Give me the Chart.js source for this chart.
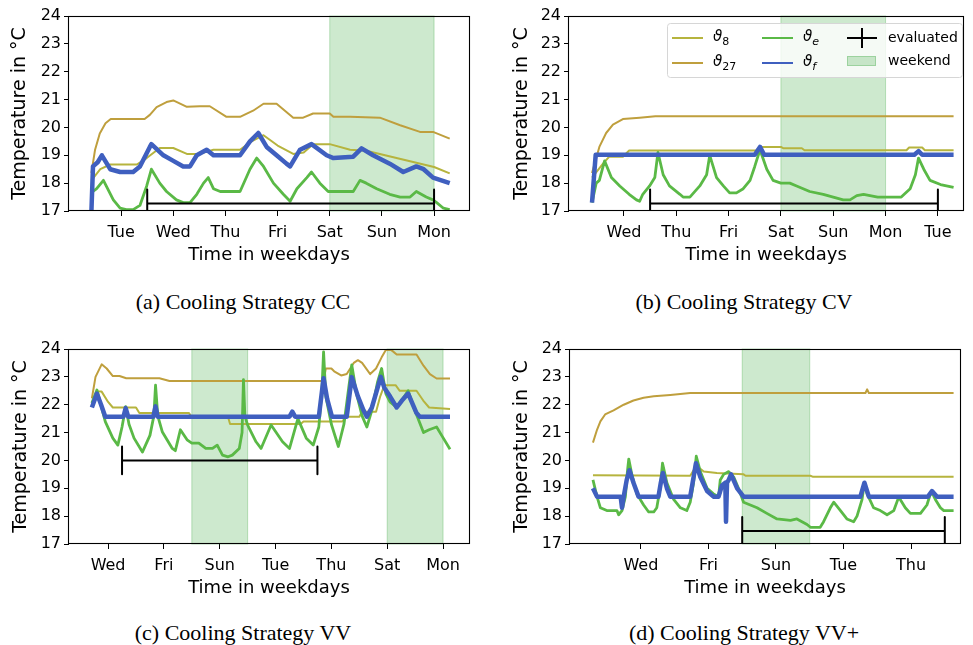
<!DOCTYPE html>
<html>
<head>
<meta charset="utf-8">
<script src="https://cdn.jsdelivr.net/npm/chart.js@4.4.1/dist/chart.umd.min.js"></script>
<style>
body{margin:0;background:#fff;width:973px;height:645px;position:relative;overflow:hidden}
.panel{position:absolute;width:486px;height:270px}
.cap{position:absolute;width:486px;text-align:center;font-family:"Liberation Serif",serif;font-size:22px;line-height:24px;color:#000}
</style>
</head>
<body>
<div class="panel" style="left:0;top:0"><canvas id="cc"></canvas></div>
<div class="panel" style="left:487px;top:0"><canvas id="cv"></canvas></div>
<div class="panel" style="left:0;top:333px"><canvas id="vv"></canvas></div>
<div class="panel" style="left:487px;top:333px"><canvas id="vvp"></canvas></div>
<div class="cap" style="left:0;top:290px">(a) Cooling Strategy CC</div>
<div class="cap" style="left:501px;top:290px">(b) Cooling Strategy CV</div>
<div class="cap" style="left:0;top:621px">(c) Cooling Strategy VV</div>
<div class="cap" style="left:501px;top:621px">(d) Cooling Strategy VV+</div>
<script>
// x = days since Monday of the first week, y = temperature in °C
// (a) Cooling strategy CC
const ccT8 = [[0.43,18.1],[0.6,18.5],[0.79,18.67],[1.3,18.67],[1.49,18.9],[1.74,19.26],[2.0,19.26],[2.26,19.05],[2.5,19.05],[2.77,19.2],[3.28,19.2],[3.5,19.5],[3.73,19.72],[4.0,19.35],[4.3,19.05],[4.5,19.1],[4.68,19.4],[5.0,19.4],[5.39,19.2],[5.7,19.16],[6.2,18.94],[6.6,18.76],[7.0,18.58],[7.3,18.35]];
const ccT27 = [[0.43,18.37],[0.5,19.2],[0.59,19.78],[0.7,20.15],[0.8,20.3],[1.45,20.3],[1.55,20.45],[1.68,20.73],[1.87,20.91],[2.0,20.97],[2.26,20.74],[2.51,20.76],[2.7,20.76],[3.02,20.38],[3.28,20.38],[3.53,20.6],[3.73,20.85],[3.98,20.85],[4.3,20.35],[4.49,20.35],[4.68,20.5],[5.0,20.5],[5.07,20.38],[5.39,20.38],[5.96,20.35],[6.35,20.08],[6.73,19.84],[6.98,19.84],[7.3,19.6]];
const ccTe = [[0.46,17.7],[0.53,17.8],[0.66,18.1],[0.85,17.4],[0.98,17.1],[1.1,17.05],[1.23,17.05],[1.36,17.2],[1.49,17.9],[1.58,18.5],[1.74,18.0],[1.87,17.7],[2.06,17.4],[2.19,17.3],[2.32,17.3],[2.45,17.6],[2.58,18.0],[2.67,18.2],[2.77,17.8],[2.9,17.7],[3.28,17.7],[3.47,18.5],[3.6,18.9],[3.73,18.6],[3.92,18.0],[4.11,17.6],[4.24,17.35],[4.37,17.8],[4.56,18.2],[4.65,18.4],[4.81,18.0],[4.97,17.7],[5.07,17.7],[5.45,17.7],[5.58,18.1],[5.7,18.0],[5.9,17.8],[6.15,17.6],[6.35,17.5],[6.54,17.5],[6.66,17.7],[6.85,17.5],[6.98,17.4],[7.05,17.3],[7.18,17.1],[7.3,17.05]];
const ccTf = [[0.43,17.0],[0.46,18.6],[0.55,18.75],[0.63,19.0],[0.79,18.5],[0.98,18.4],[1.23,18.4],[1.36,18.6],[1.55,19.3],[1.58,19.4],[1.81,19.0],[2.0,18.8],[2.19,18.6],[2.32,18.6],[2.45,19.0],[2.64,19.2],[2.77,19.0],[3.28,19.0],[3.47,19.5],[3.63,19.8],[3.79,19.3],[3.98,19.0],[4.17,18.7],[4.24,18.6],[4.43,19.2],[4.65,19.4],[4.94,19.0],[5.07,18.9],[5.45,18.95],[5.61,19.25],[5.83,19.0],[6.15,18.7],[6.41,18.4],[6.66,18.6],[6.8,18.5],[6.98,18.2],[7.3,18.0]];
const ccEval = [1.5, 7.0, 17.27];
const ccWeekend = [[5, 7]];
const ccTickDays = [1, 2, 3, 4, 5, 6, 7];
const ccTickNames = ['Tue', 'Wed', 'Thu', 'Fri', 'Sat', 'Sun', 'Mon'];

// (b) Cooling strategy CV
const cvT8 = [[1.39,18.2],[1.6,18.7],[1.72,18.95],[1.98,18.95],[2.1,19.17],[4.53,19.17],[4.6,19.3],[5.0,19.3],[5.05,19.25],[5.4,19.25],[5.45,19.18],[7.4,19.18],[7.45,19.28],[7.7,19.28],[7.75,19.18],[8.3,19.18]];
const cvT27 = [[1.39,18.36],[1.53,19.3],[1.66,19.8],[1.79,20.1],[1.98,20.3],[2.3,20.35],[2.6,20.4],[8.3,20.4]];
const cvTe = [[1.39,17.3],[1.47,18.0],[1.53,18.1],[1.63,18.8],[1.76,18.2],[1.92,17.9],[2.1,17.6],[2.24,17.4],[2.3,17.35],[2.36,17.6],[2.49,17.9],[2.59,18.2],[2.65,19.1],[2.75,18.3],[2.87,17.9],[3.07,17.6],[3.13,17.5],[3.26,17.5],[3.45,17.9],[3.58,18.3],[3.64,19.0],[3.77,18.2],[3.9,17.9],[4.02,17.65],[4.15,17.65],[4.28,17.8],[4.41,18.1],[4.5,18.6],[4.6,19.2],[4.73,18.5],[4.85,18.1],[5.0,18.0],[5.17,18.0],[5.3,17.9],[5.55,17.7],[5.81,17.6],[6.0,17.5],[6.19,17.4],[6.32,17.4],[6.45,17.55],[6.58,17.6],[6.85,17.5],[7.3,17.5],[7.47,17.8],[7.57,18.3],[7.63,18.9],[7.73,18.5],[7.85,18.1],[8.05,17.95],[8.3,17.85]];
const cvTf = [[1.39,17.3],[1.46,19.02],[4.5,19.02],[4.6,19.3],[4.68,19.02],[7.55,19.02],[7.63,19.15],[7.7,19.02],[8.3,19.02]];
const cvEval = [2.5, 8.0, 17.27];
const cvWeekend = [[5, 7]];
const cvTickDays = [2, 3, 4, 5, 6, 7, 8];
const cvTickNames = ['Wed', 'Thu', 'Fri', 'Sat', 'Sun', 'Mon', 'Tue'];

// (c) Cooling strategy VV
const vvT8 = [[1.42,22.0],[1.6,22.47],[1.77,22.47],[2.0,22.1],[2.17,21.9],[3.0,21.9],[3.12,21.7],[4.9,21.7],[5.0,21.55],[6.3,21.55],[6.37,21.31],[8.9,21.31],[9.0,21.4],[10.4,21.4],[10.5,21.57],[11.0,21.57],[11.1,21.75],[11.6,21.75],[11.75,22.3],[11.9,22.7],[12.3,22.7],[12.45,22.5],[13.05,22.5],[13.29,22.15],[13.5,21.9],[14.25,21.85]];
const vvT27 = [[1.42,22.23],[1.55,23.0],[1.77,23.45],[1.95,23.3],[2.17,23.03],[2.41,23.03],[2.65,22.95],[3.84,22.95],[4.2,22.85],[9.72,22.85],[9.8,23.3],[10.0,23.3],[10.1,23.2],[10.35,23.05],[10.55,23.1],[10.8,23.5],[10.95,23.6],[11.1,23.5],[11.39,23.1],[11.6,23.3],[11.8,23.7],[11.95,23.96],[12.15,23.96],[12.34,23.8],[13.05,23.8],[13.3,23.4],[13.53,23.1],[13.77,22.94],[14.25,22.94]];
const vvTe = [[1.42,22.06],[1.6,22.53],[1.9,21.39],[2.17,20.8],[2.35,20.55],[2.5,21.2],[2.63,21.93],[2.75,21.3],[2.93,20.8],[3.23,20.3],[3.5,20.9],[3.64,21.6],[3.7,22.7],[3.78,21.6],[3.94,21.03],[4.3,20.43],[4.41,20.35],[4.59,21.1],[4.83,20.74],[5.0,20.62],[5.25,20.62],[5.5,20.43],[5.74,20.43],[5.91,20.55],[6.1,20.19],[6.3,20.13],[6.45,20.19],[6.7,20.43],[6.8,21.0],[6.85,22.9],[6.9,21.6],[7.0,21.27],[7.3,20.67],[7.48,20.43],[7.84,21.27],[8.25,20.67],[8.5,20.43],[8.8,21.5],[9.1,20.8],[9.35,20.55],[9.55,21.2],[9.66,22.5],[9.72,23.9],[9.8,22.3],[10.0,21.3],[10.25,20.5],[10.45,21.3],[10.62,22.6],[10.73,23.43],[10.9,22.4],[11.1,21.6],[11.27,21.2],[11.45,21.8],[11.65,22.8],[11.8,23.3],[11.95,22.4],[12.1,22.1],[12.34,21.9],[12.55,22.2],[12.75,22.5],[12.95,21.9],[13.3,21.0],[13.5,21.1],[13.77,21.2],[13.95,20.9],[14.25,20.4]];
const vvTf = [[1.42,21.9],[1.6,22.4],[1.75,22.0],[1.9,21.57],[2.55,21.57],[2.63,21.88],[2.72,21.57],[3.62,21.57],[3.7,21.94],[3.78,21.57],[8.5,21.57],[8.6,21.75],[8.7,21.57],[9.55,21.57],[9.72,22.95],[9.85,22.2],[10.02,21.57],[10.55,21.57],[10.73,22.99],[10.95,22.3],[11.15,21.8],[11.27,21.57],[11.45,21.9],[11.77,23.0],[11.9,22.6],[12.1,22.3],[12.34,21.9],[12.52,22.14],[12.75,22.4],[13.05,21.7],[13.17,21.57],[14.25,21.57]];
const vvEval = [2.5, 9.5, 20.0];
const vvWeekend = [[5, 7], [12, 14]];
const vvTickDays = [2, 4, 6, 8, 10, 12, 14];
const vvTickNames = ['Wed', 'Fri', 'Sun', 'Tue', 'Thu', 'Sat', 'Mon'];

// (d) Cooling strategy VV+
const vvpT8 = [[0.58,19.47],[3.46,19.45],[3.56,19.65],[3.76,19.7],[3.86,19.6],[4.25,19.55],[5.04,19.5],[5.1,19.45],[7.02,19.45],[7.1,19.41],[11.26,19.41]];
const vvpT27 = [[0.58,20.64],[0.7,21.1],[0.8,21.4],[0.94,21.65],[1.19,21.8],[1.49,22.0],[1.78,22.15],[2.08,22.25],[2.38,22.3],[2.87,22.35],[3.46,22.42],[8.65,22.42],[8.7,22.55],[8.75,22.42],[11.26,22.42]];
const vvpTe = [[0.58,19.3],[0.7,18.7],[0.8,18.3],[0.99,18.2],[1.29,18.2],[1.34,18.05],[1.44,18.2],[1.54,18.7],[1.6,19.6],[1.64,20.05],[1.73,19.5],[1.88,18.8],[2.08,18.4],[2.23,18.15],[2.38,18.15],[2.47,18.3],[2.57,19.0],[2.64,19.9],[2.77,19.2],[2.97,18.6],[3.17,18.3],[3.36,18.2],[3.46,18.5],[3.56,19.2],[3.64,20.15],[3.76,19.6],[3.96,19.0],[4.15,18.8],[4.3,18.7],[4.35,19.3],[4.45,19.5],[4.6,19.6],[4.75,19.4],[4.89,19.0],[5.04,18.5],[5.24,18.4],[5.44,18.3],[5.73,18.1],[6.03,17.9],[6.43,17.85],[6.62,17.9],[6.92,17.7],[7.02,17.6],[7.31,17.6],[7.41,17.8],[7.61,18.3],[7.71,18.5],[7.91,18.2],[8.1,17.9],[8.3,17.8],[8.4,18.0],[8.55,18.6],[8.62,19.2],[8.7,18.8],[8.89,18.3],[9.09,18.2],[9.29,18.05],[9.49,18.2],[9.64,18.7],[9.68,18.6],[9.83,18.3],[9.98,18.1],[10.28,18.1],[10.47,18.4],[10.6,18.9],[10.72,18.6],[10.87,18.3],[10.97,18.2],[11.26,18.2]];
const vvpTf = [[0.58,19.0],[0.7,18.7],[1.4,18.7],[1.44,18.3],[1.49,18.7],[1.58,19.3],[1.66,19.65],[1.78,19.2],[1.93,18.7],[2.52,18.7],[2.59,19.2],[2.65,19.55],[2.77,19.0],[2.87,18.7],[3.46,18.7],[3.56,19.4],[3.63,19.9],[3.76,19.4],[3.96,18.9],[4.15,18.7],[4.3,18.7],[4.4,19.1],[4.5,19.2],[4.52,17.8],[4.55,19.2],[4.6,19.3],[4.67,19.5],[4.85,19.0],[5.04,18.7],[8.5,18.7],[8.62,19.2],[8.75,18.7],[10.5,18.7],[10.62,18.9],[10.77,18.7],[11.26,18.7]];
const vvpEval = [5.0, 11.0, 17.47];
const vvpWeekend = [[5, 7]];
const vvpTickDays = [2, 4, 6, 8, 10];
const vvpTickNames = ['Wed', 'Fri', 'Sun', 'Tue', 'Thu'];

const C8 = '#b6b43e', C27 = '#bf9f3d', CE = '#5ab946', CF = '#3f5fbf';
const SHADE = 'rgba(76,175,80,0.28)';

const toXY = pts => pts.map(p => ({x: p[0], y: p[1]}));

// horizontal bar with end caps (the evaluated period)
function evalPoints(e) {
    const x0 = e[0], x1 = e[1], y = e[2], h = 0.5;
    return [{x:x0,y:y+h},{x:x0,y:y-h},{x:x0,y:null},{x:x0,y:y},{x:x1,y:y},{x:x1,y:null},{x:x1,y:y+h},{x:x1,y:y-h}];
}

function drawTheta(ctx, x, y, sub) {
    ctx.font = 'italic 15px "DejaVu Sans"';
    ctx.textBaseline = 'middle';
    ctx.fillText('\u03d1', x, y);
    const w = ctx.measureText('\u03d1').width;
    ctx.font = (sub.length > 1 ? '' : 'italic ') + '11px "DejaVu Sans"';
    if (sub === 'e' || sub === 'f') ctx.font = 'italic 11px "DejaVu Sans"';
    else ctx.font = '11px "DejaVu Sans"';
    ctx.fillText(sub, x + w, y + 5);
}

function makeChart(id, p) {
    const shading = {
        id: 'shading',
        beforeDatasetsDraw(chart) {
            const {ctx, chartArea: a, scales: {x}} = chart;
            ctx.save();
            p.weekend.forEach(w => {
                const x0 = x.getPixelForValue(w[0]), x1 = x.getPixelForValue(w[1]);
                ctx.fillStyle = SHADE;
                ctx.fillRect(x0, a.top, x1 - x0, a.bottom - a.top);
                ctx.strokeStyle = 'rgba(76,175,80,0.35)';
                ctx.lineWidth = 1;
                ctx.strokeRect(x0, a.top, x1 - x0, a.bottom - a.top);
            });
            ctx.restore();
        },
        afterDraw(chart) {
            const {ctx, chartArea: a} = chart;
            ctx.save();
            ctx.strokeStyle = '#000';
            ctx.lineWidth = 1.1;
            ctx.strokeRect(Math.round(a.left) - 0.5, Math.round(a.top) + 0.5, Math.round(a.right - a.left) + 1, Math.round(a.bottom - a.top) - 1);
            if (p.legend) {
                const L = a.right - 296, T = a.top + 7;
                ctx.fillStyle = 'rgba(255,255,255,0.8)';
                ctx.strokeStyle = '#d6d6d6';
                ctx.lineWidth = 1;
                ctx.beginPath();
                ctx.roundRect(L + 0.5, T + 0.5, 295, 54, 3);
                ctx.fill();
                ctx.stroke();
                const r1 = T + 15, r2 = T + 40;
                const lineSeg = (x, y, c) => {
                    ctx.strokeStyle = c; ctx.lineWidth = 2;
                    ctx.beginPath(); ctx.moveTo(x, y); ctx.lineTo(x + 31, y); ctx.stroke();
                };
                lineSeg(L + 5, r1, C8); lineSeg(L + 5, r2, C27);
                lineSeg(L + 95, r1, CE); lineSeg(L + 95, r2, CF);
                ctx.fillStyle = '#000';
                drawTheta(ctx, L + 46, r1 - 1, '8');
                drawTheta(ctx, L + 46, r2 - 1, '27');
                drawTheta(ctx, L + 136, r1 - 1, 'e');
                drawTheta(ctx, L + 136, r2 - 1, 'f');
                ctx.strokeStyle = '#000'; ctx.lineWidth = 2;
                ctx.beginPath();
                ctx.moveTo(L + 180, r1); ctx.lineTo(L + 210, r1);
                ctx.moveTo(L + 195, r1 - 10); ctx.lineTo(L + 195, r1 + 10);
                ctx.stroke();
                ctx.fillStyle = SHADE;
                ctx.fillRect(L + 180, r2 - 7, 29, 10);
                ctx.strokeStyle = 'rgba(76,175,80,0.35)'; ctx.lineWidth = 1;
                ctx.strokeRect(L + 180.5, r2 - 6.5, 28, 9);
                ctx.fillStyle = '#000';
                ctx.font = '14px "DejaVu Sans"';
                ctx.textBaseline = 'middle';
                ctx.fillText('evaluated', L + 221, r1);
                ctx.fillText('weekend', L + 221, r2 - 2);
            }
            ctx.restore();
        }
    };

    new Chart(document.getElementById(id), {
        type: 'line',
        data: {
            datasets: [
                {data: evalPoints(p.evalBar), borderColor: '#000', borderWidth: 2},
                {data: toXY(p.tf), borderColor: CF, borderWidth: 4.5},
                {data: toXY(p.te), borderColor: CE, borderWidth: 2.8},
                {data: toXY(p.t27), borderColor: C27, borderWidth: 2},
                {data: toXY(p.t8), borderColor: C8, borderWidth: 2}
            ]
        },
        options: {
            responsive: true,
            maintainAspectRatio: false,
            animation: false,
            layout: {padding: {top: 16, right: p.padRight, left: 0, bottom: 0}},
            elements: {point: {radius: 0}, line: {tension: 0, borderJoinStyle: 'round'}},
            plugins: {legend: {display: false}, tooltip: {enabled: false}},
            scales: {
                x: {
                    type: 'linear',
                    min: p.xMin,
                    max: p.xMax,
                    afterFit(s) { s.height = 59; },
                    afterBuildTicks(s) { s.ticks = p.tickDays.map(v => ({value: v})); },
                    ticks: {
                        callback: (v, i) => p.tickNames[i],
                        autoSkip: false,
                        maxRotation: 0,
                        padding: 7,
                        color: '#000',
                        font: {family: 'DejaVu Sans', size: 16}
                    },
                    grid: {drawOnChartArea: false, tickLength: 5, color: '#000'},
                    border: {display: false},
                    title: {
                        display: true,
                        text: 'Time in weekdays',
                        color: '#000',
                        font: {family: 'DejaVu Sans', size: 18},
                        padding: {top: 0, bottom: 4}
                    }
                },
                y: {
                    min: 17,
                    max: 24,
                    afterFit(s) { s.width = p.yWidth; },
                    ticks: {
                        stepSize: 1,
                        padding: 3,
                        color: '#000',
                        font: {family: 'DejaVu Sans', size: 16}
                    },
                    grid: {drawOnChartArea: false, tickLength: 5, color: '#000'},
                    border: {display: false},
                    title: {
                        display: true,
                        text: 'Temperature in °C',
                        color: '#000',
                        font: {family: 'DejaVu Sans', size: 19},
                        padding: {top: p.titlePad, bottom: 0}
                    }
                }
            }
        },
        plugins: [shading]
    });
}

makeChart('cc', {t8: ccT8, t27: ccT27, te: ccTe, tf: ccTf, evalBar: ccEval, weekend: ccWeekend,
    tickDays: ccTickDays, tickNames: ccTickNames, xMin: 0, xMax: 7.67, padRight: 17, yWidth: 69, titlePad: 9});
makeChart('cv', {t8: cvT8, t27: cvT27, te: cvTe, tf: cvTf, evalBar: cvEval, weekend: cvWeekend,
    tickDays: cvTickDays, tickNames: cvTickNames, xMin: 0.95, xMax: 8.48, padRight: 10, yWidth: 82, titlePad: 24, legend: true});
makeChart('vv', {t8: vvT8, t27: vvT27, te: vvTe, tf: vvTf, evalBar: vvEval, weekend: vvWeekend,
    tickDays: vvTickDays, tickNames: vvTickNames, xMin: 0.6, xMax: 14.93, padRight: 17, yWidth: 69, titlePad: 10});
makeChart('vvp', {t8: vvpT8, t27: vvpT27, te: vvpTe, tf: vvpTf, evalBar: vvpEval, weekend: vvpWeekend,
    tickDays: vvpTickDays, tickNames: vvpTickNames, xMin: -0.1, xMax: 11.45, padRight: 13, yWidth: 83, titlePad: 24});
</script>
</body>
</html>
